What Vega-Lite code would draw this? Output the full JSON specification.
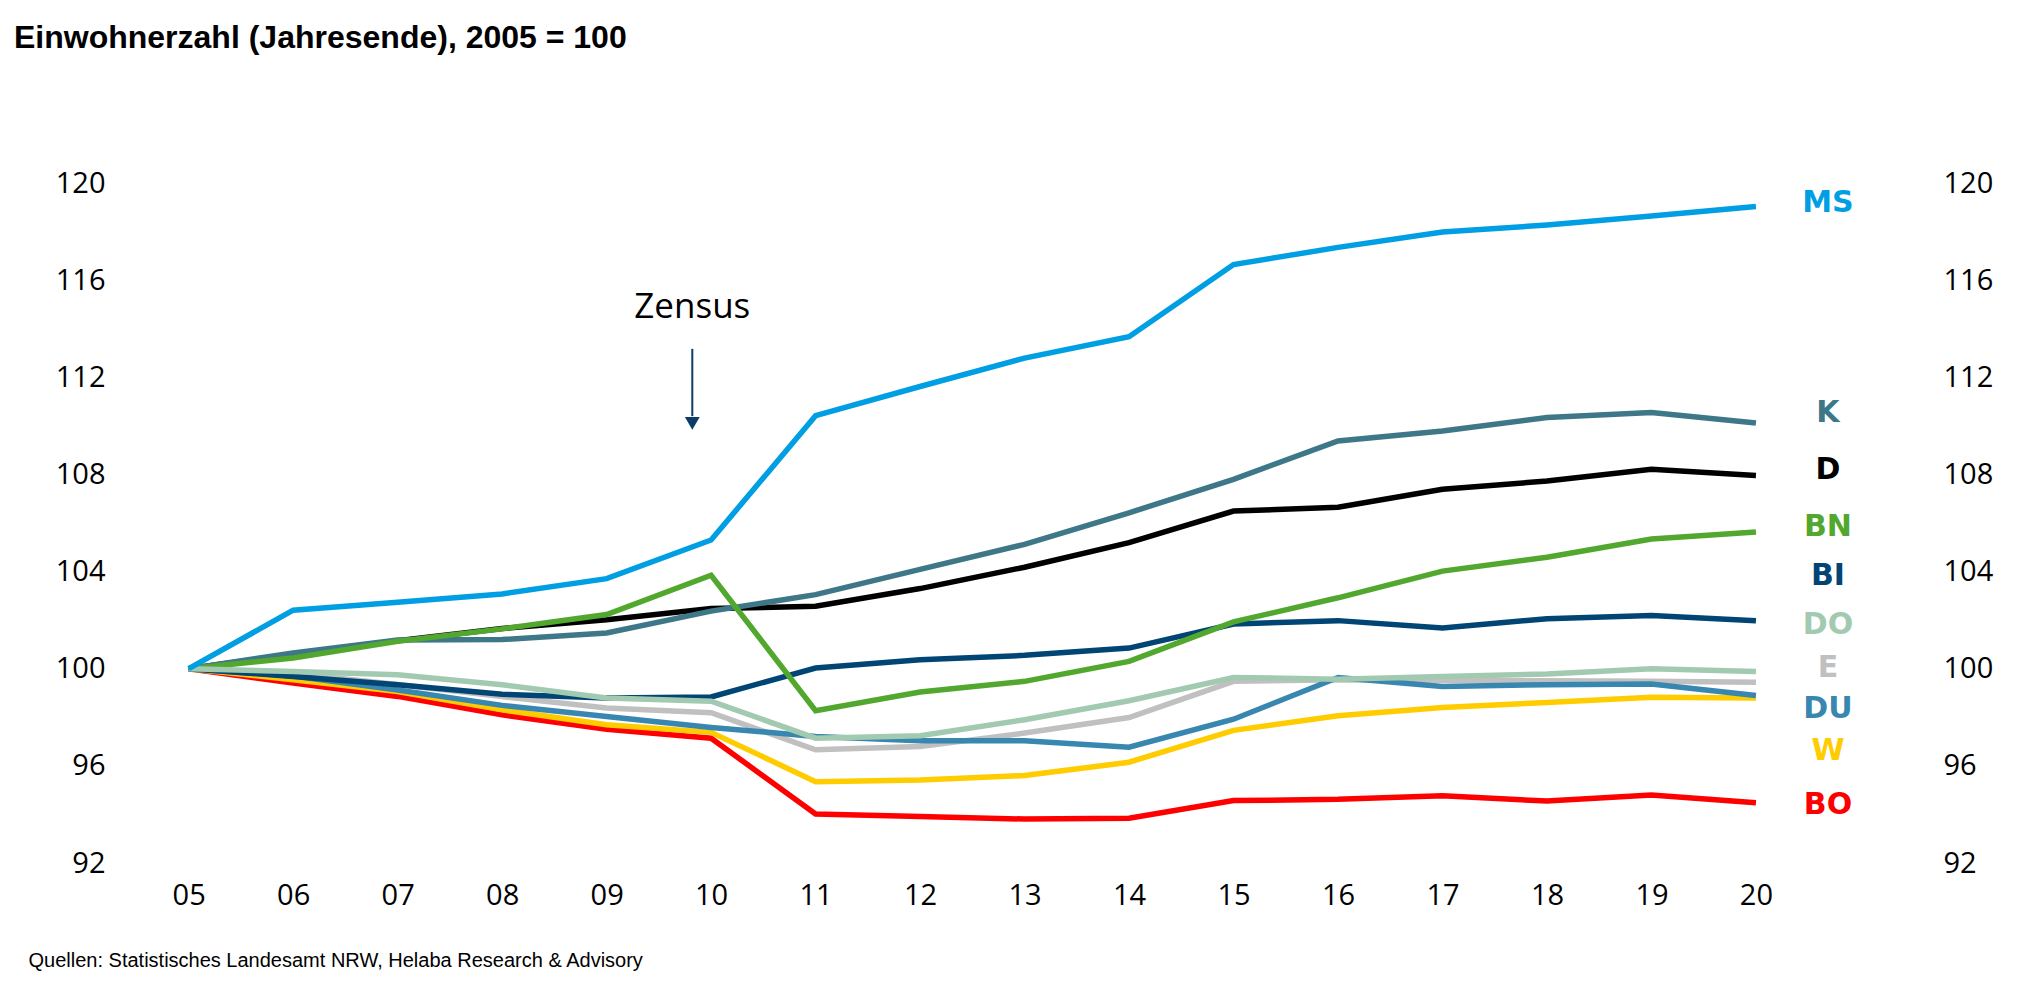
{
  "$schema": "https://vega.github.io/schema/vega-lite/v6.json",
  "width": 1771,
  "height": 680,
  "autosize": {"type": "none"},
  "padding": {"left": 126, "top": 183, "right": 135, "bottom": 129},
  "background": "white",
  "title": {
    "text": "Einwohnerzahl (Jahresende), 2005 = 100",
    "anchor": "start",
    "frame": "group",
    "dx": -112,
    "offset": 89,
    "font": "Liberation Sans",
    "fontSize": 32,
    "fontWeight": "bold",
    "color": "black",
    "baseline": "alphabetic"
  },
  "config": {
    "view": {"stroke": null},
    "axis": {
      "domain": false,
      "ticks": false,
      "grid": false,
      "labelFont": "Open Sans",
      "labelFontSize": 29,
      "labelColor": "black"
    }
  },
  "datasets": {
    "series": [
      {"city": "BO", "year": 5, "value": 100}, {"city": "BO", "year": 6, "value": 99.41}, {"city": "BO", "year": 7, "value": 98.86}, {"city": "BO", "year": 8, "value": 98.1}, {"city": "BO", "year": 9, "value": 97.51}, {"city": "BO", "year": 10, "value": 97.14}, {"city": "BO", "year": 11, "value": 94.02}, {"city": "BO", "year": 12, "value": 93.91}, {"city": "BO", "year": 13, "value": 93.81}, {"city": "BO", "year": 14, "value": 93.84}, {"city": "BO", "year": 15, "value": 94.57}, {"city": "BO", "year": 16, "value": 94.62}, {"city": "BO", "year": 17, "value": 94.77}, {"city": "BO", "year": 18, "value": 94.55}, {"city": "BO", "year": 19, "value": 94.8}, {"city": "BO", "year": 20, "value": 94.48},
      {"city": "W", "year": 5, "value": 100}, {"city": "W", "year": 6, "value": 99.55}, {"city": "W", "year": 7, "value": 99.06}, {"city": "W", "year": 8, "value": 98.31}, {"city": "W", "year": 9, "value": 97.69}, {"city": "W", "year": 10, "value": 97.38}, {"city": "W", "year": 11, "value": 95.35}, {"city": "W", "year": 12, "value": 95.42}, {"city": "W", "year": 13, "value": 95.6}, {"city": "W", "year": 14, "value": 96.15}, {"city": "W", "year": 15, "value": 97.46}, {"city": "W", "year": 16, "value": 98.06}, {"city": "W", "year": 17, "value": 98.4}, {"city": "W", "year": 18, "value": 98.61}, {"city": "W", "year": 19, "value": 98.82}, {"city": "W", "year": 20, "value": 98.79},
      {"city": "E", "year": 5, "value": 100}, {"city": "E", "year": 6, "value": 99.8}, {"city": "E", "year": 7, "value": 99.35}, {"city": "E", "year": 8, "value": 98.85}, {"city": "E", "year": 9, "value": 98.38}, {"city": "E", "year": 10, "value": 98.19}, {"city": "E", "year": 11, "value": 96.66}, {"city": "E", "year": 12, "value": 96.8}, {"city": "E", "year": 13, "value": 97.35}, {"city": "E", "year": 14, "value": 97.99}, {"city": "E", "year": 15, "value": 99.48}, {"city": "E", "year": 16, "value": 99.55}, {"city": "E", "year": 17, "value": 99.52}, {"city": "E", "year": 18, "value": 99.5}, {"city": "E", "year": 19, "value": 99.48}, {"city": "E", "year": 20, "value": 99.44},
      {"city": "DU", "year": 5, "value": 100}, {"city": "DU", "year": 6, "value": 99.7}, {"city": "DU", "year": 7, "value": 99.12}, {"city": "DU", "year": 8, "value": 98.49}, {"city": "DU", "year": 9, "value": 98.03}, {"city": "DU", "year": 10, "value": 97.58}, {"city": "DU", "year": 11, "value": 97.21}, {"city": "DU", "year": 12, "value": 97.03}, {"city": "DU", "year": 13, "value": 97.03}, {"city": "DU", "year": 14, "value": 96.77}, {"city": "DU", "year": 15, "value": 97.92}, {"city": "DU", "year": 16, "value": 99.64}, {"city": "DU", "year": 17, "value": 99.27}, {"city": "DU", "year": 18, "value": 99.34}, {"city": "DU", "year": 19, "value": 99.37}, {"city": "DU", "year": 20, "value": 98.9},
      {"city": "BI", "year": 5, "value": 100}, {"city": "BI", "year": 6, "value": 99.68}, {"city": "BI", "year": 7, "value": 99.34}, {"city": "BI", "year": 8, "value": 98.95}, {"city": "BI", "year": 9, "value": 98.79}, {"city": "BI", "year": 10, "value": 98.84}, {"city": "BI", "year": 11, "value": 100.03}, {"city": "BI", "year": 12, "value": 100.37}, {"city": "BI", "year": 13, "value": 100.55}, {"city": "BI", "year": 14, "value": 100.85}, {"city": "BI", "year": 15, "value": 101.84}, {"city": "BI", "year": 16, "value": 101.98}, {"city": "BI", "year": 17, "value": 101.68}, {"city": "BI", "year": 18, "value": 102.06}, {"city": "BI", "year": 19, "value": 102.19}, {"city": "BI", "year": 20, "value": 101.98},
      {"city": "D", "year": 5, "value": 100}, {"city": "D", "year": 6, "value": 100.6}, {"city": "D", "year": 7, "value": 101.15}, {"city": "D", "year": 8, "value": 101.66}, {"city": "D", "year": 9, "value": 102.02}, {"city": "D", "year": 10, "value": 102.48}, {"city": "D", "year": 11, "value": 102.57}, {"city": "D", "year": 12, "value": 103.3}, {"city": "D", "year": 13, "value": 104.18}, {"city": "D", "year": 14, "value": 105.19}, {"city": "D", "year": 15, "value": 106.49}, {"city": "D", "year": 16, "value": 106.65}, {"city": "D", "year": 17, "value": 107.39}, {"city": "D", "year": 18, "value": 107.73}, {"city": "D", "year": 19, "value": 108.21}, {"city": "D", "year": 20, "value": 107.96},
      {"city": "K", "year": 5, "value": 100}, {"city": "K", "year": 6, "value": 100.65}, {"city": "K", "year": 7, "value": 101.18}, {"city": "K", "year": 8, "value": 101.2}, {"city": "K", "year": 9, "value": 101.47}, {"city": "K", "year": 10, "value": 102.37}, {"city": "K", "year": 11, "value": 103.05}, {"city": "K", "year": 12, "value": 104.09}, {"city": "K", "year": 13, "value": 105.12}, {"city": "K", "year": 14, "value": 106.42}, {"city": "K", "year": 15, "value": 107.8}, {"city": "K", "year": 16, "value": 109.38}, {"city": "K", "year": 17, "value": 109.79}, {"city": "K", "year": 18, "value": 110.34}, {"city": "K", "year": 19, "value": 110.55}, {"city": "K", "year": 20, "value": 110.12},
      {"city": "BN", "year": 5, "value": 100}, {"city": "BN", "year": 6, "value": 100.44}, {"city": "BN", "year": 7, "value": 101.13}, {"city": "BN", "year": 8, "value": 101.64}, {"city": "BN", "year": 9, "value": 102.23}, {"city": "BN", "year": 10, "value": 103.85}, {"city": "BN", "year": 11, "value": 98.27}, {"city": "BN", "year": 12, "value": 99.04}, {"city": "BN", "year": 13, "value": 99.48}, {"city": "BN", "year": 14, "value": 100.3}, {"city": "BN", "year": 15, "value": 101.93}, {"city": "BN", "year": 16, "value": 102.92}, {"city": "BN", "year": 17, "value": 104.02}, {"city": "BN", "year": 18, "value": 104.59}, {"city": "BN", "year": 19, "value": 105.34}, {"city": "BN", "year": 20, "value": 105.63},
      {"city": "DO", "year": 5, "value": 100}, {"city": "DO", "year": 6, "value": 99.89}, {"city": "DO", "year": 7, "value": 99.75}, {"city": "DO", "year": 8, "value": 99.34}, {"city": "DO", "year": 9, "value": 98.79}, {"city": "DO", "year": 10, "value": 98.66}, {"city": "DO", "year": 11, "value": 97.14}, {"city": "DO", "year": 12, "value": 97.24}, {"city": "DO", "year": 13, "value": 97.9}, {"city": "DO", "year": 14, "value": 98.68}, {"city": "DO", "year": 15, "value": 99.64}, {"city": "DO", "year": 16, "value": 99.57}, {"city": "DO", "year": 17, "value": 99.68}, {"city": "DO", "year": 18, "value": 99.78}, {"city": "DO", "year": 19, "value": 100.0}, {"city": "DO", "year": 20, "value": 99.89},
      {"city": "MS", "year": 5, "value": 100}, {"city": "MS", "year": 6, "value": 102.41}, {"city": "MS", "year": 7, "value": 102.74}, {"city": "MS", "year": 8, "value": 103.08}, {"city": "MS", "year": 9, "value": 103.71}, {"city": "MS", "year": 10, "value": 105.3}, {"city": "MS", "year": 11, "value": 110.42}, {"city": "MS", "year": 12, "value": 111.62}, {"city": "MS", "year": 13, "value": 112.79}, {"city": "MS", "year": 14, "value": 113.67}, {"city": "MS", "year": 15, "value": 116.64}, {"city": "MS", "year": 16, "value": 117.35}, {"city": "MS", "year": 17, "value": 117.98}, {"city": "MS", "year": 18, "value": 118.27}, {"city": "MS", "year": 19, "value": 118.64}, {"city": "MS", "year": 20, "value": 119.03}
    ],
    "labels": [
      {"city": "MS", "pos": 119.16}, {"city": "K", "pos": 110.55}, {"city": "D", "pos": 108.19}, {"city": "BN", "pos": 105.84}, {"city": "BI", "pos": 103.8}, {"city": "DO", "pos": 101.82}, {"city": "E", "pos": 100.05}, {"city": "DU", "pos": 98.34}, {"city": "W", "pos": 96.63}, {"city": "BO", "pos": 94.38}
    ],
    "note": [
      {"label": "Zensus", "x": 9.82, "y": 114.9, "arrowTop": 113.17, "arrowEnd": 110.4, "arrowHead": 110.1}
    ]
  },
  "resolve": {"axis": {"x": "independent", "y": "independent"}},
  "layer": [
    {
      "data": {"name": "series"},
      "mark": {"type": "line", "strokeWidth": 5.5},
      "encoding": {
        "x": {
          "field": "year",
          "type": "quantitative",
          "scale": {"domain": [4.4, 21.35], "nice": false, "zero": false},
          "axis": {
            "orient": "bottom",
            "values": [5, 6, 7, 8, 9, 10, 11, 12, 13, 14, 15, 16, 17, 18, 19, 20],
            "labelExpr": "datum.value < 10 ? '0' + datum.value : '' + datum.value",
            "labelPadding": 18,
            "title": "Quellen: Statistisches Landesamt NRW, Helaba Research & Advisory",
            "titleFont": "Liberation Sans",
            "titleFontSize": 20,
            "titleFontWeight": "normal",
            "titleColor": "black",
            "titleX": -98,
            "titleY": 97,
            "titleAlign": "left",
            "titleAnchor": "start",
            "titleBaseline": "middle"
          }
        },
        "y": {
          "field": "value",
          "type": "quantitative",
          "scale": {"domain": [92, 120], "nice": false, "zero": false},
          "axis": {"orient": "left", "values": [92, 96, 100, 104, 108, 112, 116, 120], "labelPadding": 21, "title": null}
        },
        "color": {
          "field": "city",
          "type": "nominal",
          "scale": {
            "domain": ["MS", "K", "D", "BN", "BI", "DO", "E", "DU", "W", "BO"],
            "range": ["#009fe3", "#3e7888", "#000000", "#52a82e", "#004573", "#a2cab1", "#c0c0c0", "#3887b0", "#ffcc00", "#ff0000"]
          },
          "legend": null
        }
      }
    },
    {
      "data": {"name": "labels"},
      "mark": {"type": "text", "font": "DejaVu Sans", "fontWeight": "bold", "fontSize": 30, "align": "center", "baseline": "middle", "dx": 72},
      "encoding": {
        "x": {"datum": 20, "type": "quantitative", "axis": null},
        "y": {
          "field": "pos",
          "type": "quantitative",
          "axis": {"orient": "right", "values": [92, 96, 100, 104, 108, 112, 116, 120], "labelPadding": 46, "title": null}
        },
        "text": {"field": "city"},
        "color": {"field": "city", "type": "nominal", "legend": null}
      }
    },
    {
      "data": {"name": "note"},
      "mark": {"type": "text", "font": "Open Sans", "fontSize": 35, "align": "center", "baseline": "middle", "color": "black"},
      "encoding": {
        "x": {"field": "x", "type": "quantitative", "axis": null},
        "y": {"field": "y", "type": "quantitative", "axis": null},
        "text": {"field": "label"}
      }
    },
    {
      "data": {"name": "note"},
      "mark": {"type": "rule", "color": "#0b3d66", "strokeWidth": 2},
      "encoding": {
        "x": {"field": "x", "type": "quantitative", "axis": null},
        "y": {"field": "arrowTop", "type": "quantitative", "axis": null},
        "y2": {"field": "arrowEnd"}
      }
    },
    {
      "data": {"name": "note"},
      "mark": {"type": "point", "shape": "triangle-down", "filled": true, "size": 220, "color": "#0b3d66", "opacity": 1},
      "encoding": {
        "x": {"field": "x", "type": "quantitative", "axis": null},
        "y": {"field": "arrowHead", "type": "quantitative", "axis": null}
      }
    }
  ]
}
